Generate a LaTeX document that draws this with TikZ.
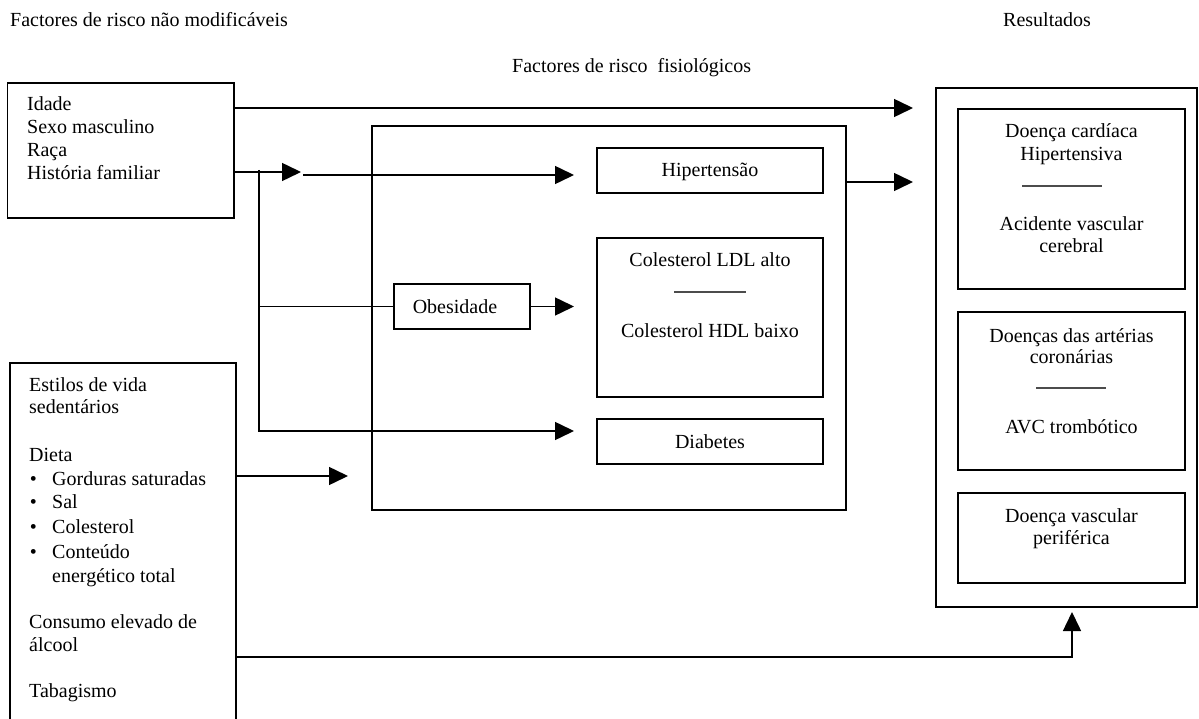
\documentclass[tikz,border=0pt]{standalone}
\usepackage{fontspec}
\setmainfont{Liberation Serif}
\usetikzlibrary{arrows.meta}
\begin{document}
\begin{tikzpicture}[x=1pt,y=-1pt,
  box/.style={draw,line width=1.5pt,rectangle,inner sep=0pt,outer sep=0pt,anchor=north west},
  conn/.style={line width=1.5pt},
  arr/.style={conn,-{Triangle[length=19pt,width=18pt]}},
  txt/.style={inner sep=0pt,anchor=base west,font=\fontsize{20}{24}\selectfont},
  ctxt/.style={txt,anchor=base},
  sep/.style={line width=1.1pt,black!70}]
\useasboundingbox (0,0) rectangle (1199,719);

% headers
\node[txt] (h1) at (10,27) {Factores de risco não modificáveis};
\node[txt] (h2) at (512,73) {Factores de risco\ \ fisiológicos};
\node[txt] (h3) at (1003,27) {Resultados};

% boxes
\node[box,minimum width=226.5pt,minimum height=135pt] (riskA) at (7.5,83) {};
\node[box,minimum width=226pt,minimum height=400pt] (life) at (10,363) {};
\node[box,minimum width=474pt,minimum height=384pt] (mid) at (372,126) {};
\node[box,minimum width=226pt,minimum height=45pt] (hip) at (597,148) {};
\node[box,minimum width=226pt,minimum height=159pt] (col) at (597,238) {};
\node[box,minimum width=226pt,minimum height=45pt] (dia) at (597,419) {};
\node[box,minimum width=136pt,minimum height=45pt] (obe) at (394,284) {};
\node[box,minimum width=261pt,minimum height=519pt] (res) at (936,88) {};
\node[box,minimum width=227pt,minimum height=180pt] (r1) at (958,109) {};
\node[box,minimum width=227pt,minimum height=158pt] (r2) at (958,312) {};
\node[box,minimum width=227pt,minimum height=90pt] (r3) at (958,493) {};

% texts in top-left box
\node[txt] (t1) at (27,111) {Idade};
\node[txt] (t2) at (27,134) {Sexo masculino};
\node[txt] (t3) at (27,157) {Raça};
\node[txt] (t4) at (27,180) {História familiar};

% texts in life box
\node[txt] (l1) at (29,391) {Estilos de vida};
\node[txt] (l2) at (29,413) {sedentários};
\node[txt] (l3) at (29,461) {Dieta};
\node[ctxt] (b1) at (33.5,485) {\textbullet};
\node[txt] (l4) at (52,485) {Gorduras saturadas};
\node[ctxt] (b2) at (33.5,508) {\textbullet};
\node[txt] (l5) at (52,508) {Sal};
\node[ctxt] (b3) at (33.5,533) {\textbullet};
\node[txt] (l6) at (52,533) {Colesterol};
\node[ctxt] (b4) at (33.5,558) {\textbullet};
\node[txt] (l7) at (52,558) {Conteúdo};
\node[txt] (l8) at (52,582) {energético total};
\node[txt] (l9) at (29,628) {Consumo elevado de};
\node[txt] (l10) at (29,651) {álcool};
\node[txt] (l11) at (29,697) {Tabagismo};

% middle texts
\node[ctxt] (thip) at (710,177) {Hipertensão};
\node[ctxt] (tc1) at (710,267) {Colesterol LDL alto};
\draw[sep] (674,292) -- (746,292);
\node[ctxt] (tc2) at (710,337) {Colesterol HDL baixo};
\node[ctxt] (tdia) at (710,448) {Diabetes};
\node[ctxt] (tobe) at (455,313) {Obesidade};

% results texts
\node[ctxt] (r1a) at (1071.5,138) {Doença cardíaca};
\node[ctxt] (r1b) at (1071.5,161) {Hipertensiva};
\draw[sep] (1022,186) -- (1102,186);
\node[ctxt] (r1c) at (1071.5,231) {Acidente vascular};
\node[ctxt] (r1d) at (1071.5,253) {cerebral};
\node[ctxt] (r2a) at (1071.5,342) {Doenças das artérias};
\node[ctxt] (r2b) at (1071.5,363) {coronárias};
\draw[sep] (1036,388) -- (1106,388);
\node[ctxt] (r2c) at (1071.5,433) {AVC trombótico};
\node[ctxt] (r3a) at (1071.5,522) {Doença vascular};
\node[ctxt] (r3b) at (1071.5,544) {periférica};

% connector coordinates
\coordinate (a1) at (913,108);
\coordinate (hA) at (301,172);
\coordinate (hB) at (303,175);
\coordinate (hC) at (574,175);
\coordinate (br) at (259,170);
\coordinate (dA) at (574,431);
\coordinate (oA) at (574,306.5);
\coordinate (m1) at (913,182);
\coordinate (dt) at (348,476);
\coordinate (bc) at (1072,657);
\coordinate (bt) at (1072,612);

% connectors
\draw[arr] (a1 -| riskA.east) -- (a1);
\draw[arr] (hA -| riskA.east) -- (hA);
\draw[arr] (hB) -- (hC);
\draw[arr] (br) |- (dA);
\draw[conn] (br |- obe.west) -- (obe.west);
\draw[arr] (obe.east) -- (oA);
\draw[arr] (m1 -| mid.east) -- (m1);
\draw[arr] (dt -| life.east) -- (dt);
\draw[arr] (bc -| life.east) -- (bc) -- (bt);
\end{tikzpicture}
\end{document}
